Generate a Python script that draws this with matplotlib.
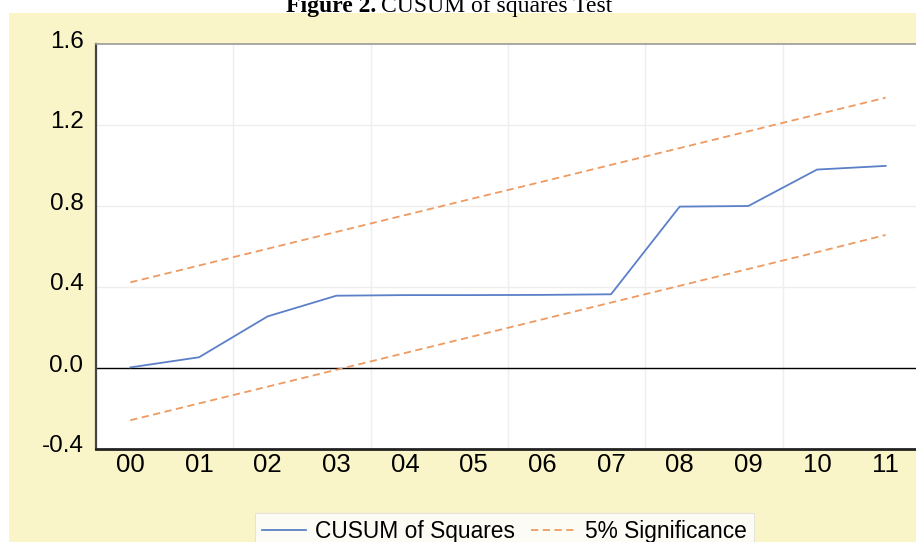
import matplotlib
matplotlib.use("Agg")
import matplotlib.pyplot as plt
from matplotlib.patches import Rectangle
from matplotlib.transforms import ScaledTranslation

years = ["00", "01", "02", "03", "04", "05", "06", "07", "08", "09", "10", "11"]
cusum_sq = [0.003, 0.053, 0.255, 0.357, 0.360, 0.360, 0.361, 0.364, 0.797, 0.800, 0.980, 0.998]
upper_5 = [0.423, 0.506, 0.589, 0.672, 0.755, 0.838, 0.920, 1.003, 1.086, 1.169, 1.252, 1.335]
lower_5 = [-0.258, -0.175, -0.092, -0.009, 0.074, 0.157, 0.240, 0.323, 0.406, 0.489, 0.572, 0.657]
yticks = [-0.4, 0.0, 0.4, 0.8, 1.2, 1.6]

W, H = 916, 542
fig = plt.figure(figsize=(W / 100, H / 100), dpi=100, facecolor="white")
plt.rcParams["font.family"] = ["Liberation Sans", "DejaVu Sans"]

# yellow panel
fig.patches.append(Rectangle((9 / W, 0), 1, 1 - 13 / H, transform=fig.transFigure,
                             facecolor="#FAF5C9", edgecolor="none", zorder=-10))

# title (cut off at top, as in the source)
ty = 1 - 12 / H
fig.text(376 / W, ty, "Figure 2.", ha="right", va="baseline", fontsize=17,
         family="Liberation Serif", fontweight="bold")
fig.text(381 / W, ty, "CUSUM of squares Test", ha="left", va="baseline", fontsize=17,
         family="Liberation Serif")

left, right, top, bottom = 96, 920, 44, 449
ax = fig.add_axes([left / W, 1 - bottom / H, (right - left) / W, (bottom - top) / H])
ax.set_facecolor("white")

x = list(range(len(years)))
l1, = ax.plot(x, cusum_sq, color="#5B80C8", lw=1.3, zorder=3, label="CUSUM of Squares")
l2, = ax.plot(x, upper_5, color="#EE9A60", lw=1.3, ls=(0, (4, 2.5)), zorder=3, label="5% Significance")
ax.plot(x, lower_5, color="#EE9A60", lw=1.3, ls=(0, (4, 2.5)), zorder=3)

ax.axhline(0, color="black", lw=1.0, zorder=2)

ax.set_xlim(-0.5, 11.5)
ax.set_ylim(-0.4, 1.6)
ax.set_xticks(x)
ax.set_xticklabels(years)
ax.set_yticks(yticks)
ax.set_yticklabels([f"{v:.1f}" for v in yticks])

for v in [0.4, 0.8, 1.2]:
    ax.axhline(v, color="#EEEEEE", lw=1.0, zorder=1)
for v in [1.5, 3.5, 5.5, 7.5, 9.5]:
    ax.axvline(v, color="#EEEEEE", lw=1.0, zorder=1)

ax.tick_params(axis="both", length=0)
ax.tick_params(axis="y", labelsize=17.5, pad=9)
ax.tick_params(axis="x", labelsize=18.5, pad=3)
for lab in ax.get_yticklabels():
    lab.set_transform(lab.get_transform() + ScaledTranslation(0, 5 / 100, fig.dpi_scale_trans))

ax.spines["left"].set_color("#444444")
ax.spines["left"].set_linewidth(1.6)
ax.spines["bottom"].set_color("#222222")
ax.spines["bottom"].set_linewidth(2.0)
ax.spines["top"].set_color("#999999")
ax.spines["top"].set_linewidth(1.2)
ax.spines["right"].set_visible(False)

leg = fig.legend(handles=[l1, l2], loc="upper left", bbox_to_anchor=(255 / W, 1 - 513 / H),
                 ncol=2, frameon=True, fancybox=False, fontsize=16.4, handlelength=1.95,
                 handletextpad=0.4, columnspacing=0.7, borderpad=0.3, borderaxespad=0)
leg.get_frame().set_edgecolor("#DDDDDD")
leg.get_frame().set_linewidth(0.8)

fig.savefig("out.png", dpi=100, facecolor=fig.get_facecolor())
